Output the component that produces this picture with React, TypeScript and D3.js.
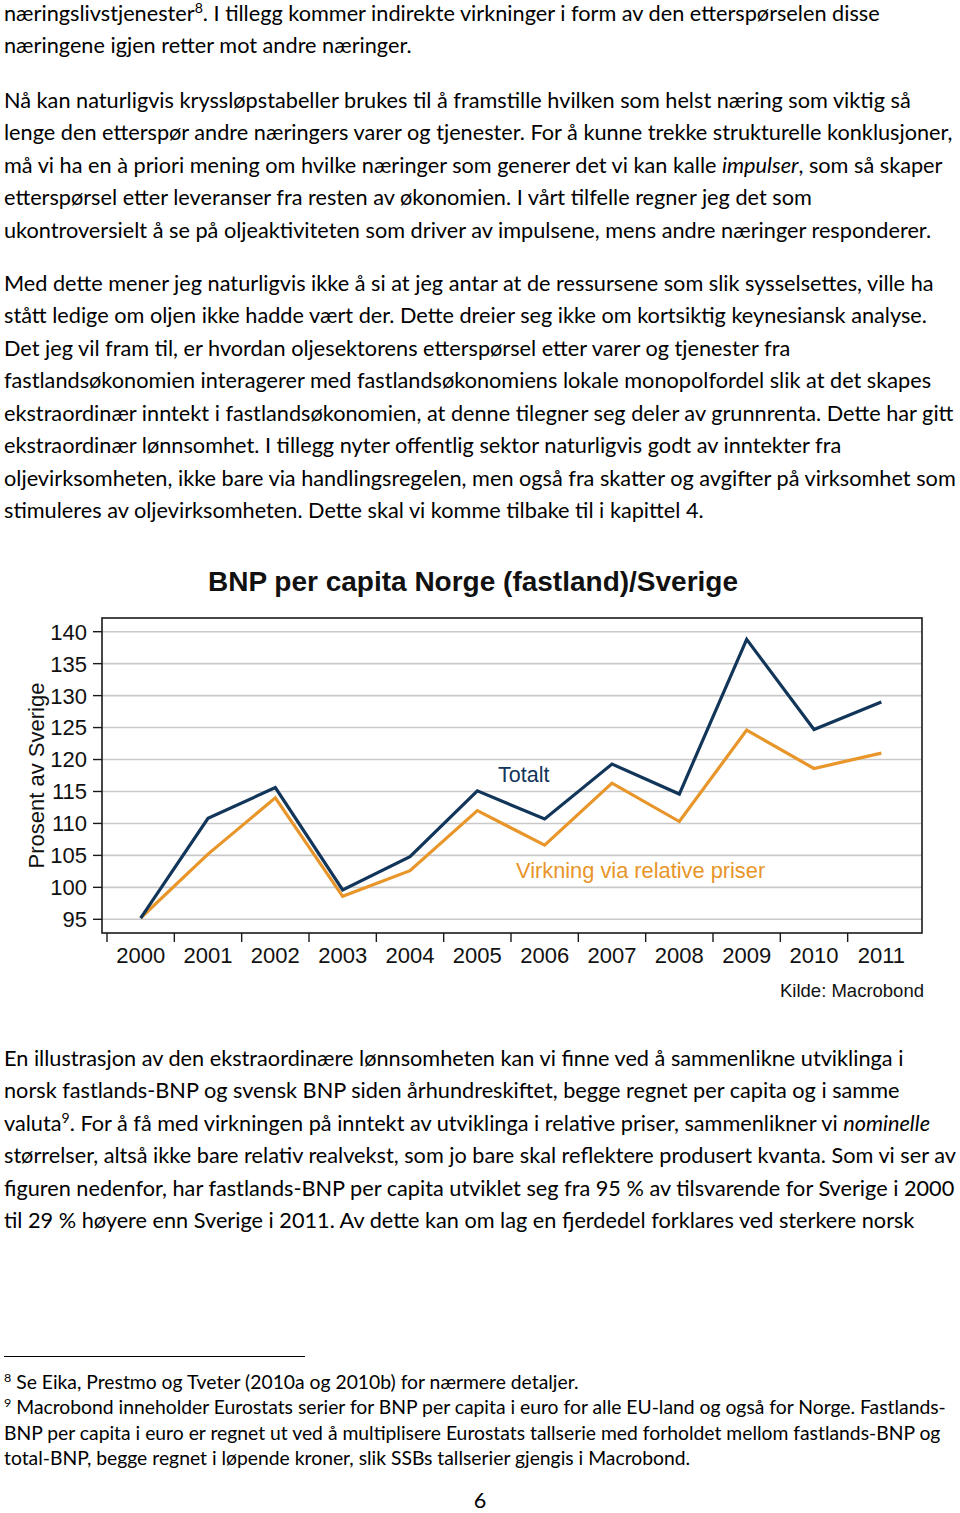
import React, { useMemo } from 'react';
import * as d3 from 'd3';

// ---------- chart data ----------
const years = ['2000', '2001', '2002', '2003', '2004', '2005', '2006', '2007', '2008', '2009', '2010', '2011'];
const totalt = [95.2, 110.8, 115.6, 99.6, 104.8, 115.1, 110.7, 119.3, 114.6, 138.8, 124.7, 129.0];
const relativePriser = [95.2, 105.2, 114.0, 98.6, 102.6, 112.0, 106.6, 116.3, 110.3, 124.6, 118.6, 121.0];
const yTicks = [95, 100, 105, 110, 115, 120, 125, 130, 135, 140];

const chartTitle = 'BNP per capita Norge (fastland)/Sverige';
const yAxisLabel = 'Prosent av Sverige';
const labelTotalt = 'Totalt';
const labelRelative = 'Virkning via relative priser';
const sourceText = 'Kilde: Macrobond';

// ---------- body text ----------
type Seg = string | { t: string; i?: boolean; sup?: boolean };
type Line = Seg[];

const para1: Line[] = [
  ['næringslivstjenester', { t: '8', sup: true }, '. I tillegg kommer indirekte virkninger i form av den etterspørselen disse'],
  ['næringene igjen retter mot andre næringer.'],
];
const para2: Line[] = [
  ['Nå kan naturligvis kryssløpstabeller brukes til å framstille hvilken som helst næring som viktig så'],
  ['lenge den etterspør andre næringers varer og tjenester. For å kunne trekke strukturelle konklusjoner,'],
  ['må vi ha en à priori mening om hvilke næringer som generer det vi kan kalle ', { t: 'impulser', i: true }, ', som så skaper'],
  ['etterspørsel etter leveranser fra resten av økonomien. I vårt tilfelle regner jeg det som'],
  ['ukontroversielt å se på oljeaktiviteten som driver av impulsene, mens andre næringer responderer.'],
];
const para3: Line[] = [
  ['Med dette mener jeg naturligvis ikke å si at jeg antar at de ressursene som slik sysselsettes, ville ha'],
  ['stått ledige om oljen ikke hadde vært der. Dette dreier seg ikke om kortsiktig keynesiansk analyse.'],
  ['Det jeg vil fram til, er hvordan oljesektorens etterspørsel etter varer og tjenester fra'],
  ['fastlandsøkonomien interagerer med fastlandsøkonomiens lokale monopolfordel slik at det skapes'],
  ['ekstraordinær inntekt i fastlandsøkonomien, at denne tilegner seg deler av grunnrenta. Dette har gitt'],
  ['ekstraordinær lønnsomhet. I tillegg nyter offentlig sektor naturligvis godt av inntekter fra'],
  ['oljevirksomheten, ikke bare via handlingsregelen, men også fra skatter og avgifter på virksomhet som'],
  ['stimuleres av oljevirksomheten. Dette skal vi komme tilbake til i kapittel 4.'],
];
const para4: Line[] = [
  ['En illustrasjon av den ekstraordinære lønnsomheten kan vi finne ved å sammenlikne utviklinga i'],
  ['norsk fastlands-BNP og svensk BNP siden århundreskiftet, begge regnet per capita og i samme'],
  ['valuta', { t: '9', sup: true }, '. For å få med virkningen på inntekt av utviklinga i relative priser, sammenlikner vi ', { t: 'nominelle', i: true }],
  ['størrelser, altså ikke bare relativ realvekst, som jo bare skal reflektere produsert kvanta. Som vi ser av'],
  ['figuren nedenfor, har fastlands-BNP per capita utviklet seg fra 95 % av tilsvarende for Sverige i 2000'],
  ['til 29 % høyere enn Sverige i 2011. Av dette kan om lag en fjerdedel forklares ved sterkere norsk'],
];
const footnotes: Line[] = [
  [{ t: '8', sup: true }, ' Se Eika, Prestmo og Tveter (2010a og 2010b) for nærmere detaljer.'],
  [{ t: '9', sup: true }, ' Macrobond inneholder Eurostats serier for BNP per capita i euro for alle EU-land og også for Norge. Fastlands-'],
  ['BNP per capita i euro er regnet ut ved å multiplisere Eurostats tallserie med forholdet mellom fastlands-BNP og'],
  ['total-BNP, begge regnet i løpende kroner, slik SSBs tallserier gjengis i Macrobond.'],
];
const pageNumber = '6';

// ---------- layout ----------
const W = 960;
const H = 1513;
const BODY_FONT = 'Lato, "Noto Sans", sans-serif';
const BODY_SIZE = 21;
const FOOT_SIZE = 18.7;
const LINE_H = 32.5;
const FOOT_LINE_H = 25.5;
const TEXT_X = 4;
const REF_LINE_WIDTH = 951; // width of longest body line in reference

const CHART_FONT = '"Liberation Sans", Arial, sans-serif';
const frame = { left: 102, right: 922, top: 618, bottom: 933 };
const NAVY = '#12355a';
const ORANGE = '#e8952a';

function measure(text: string, font: string): number {
  try {
    const ctx = document.createElement('canvas').getContext('2d');
    if (!ctx) return 0;
    ctx.font = font;
    return ctx.measureText(text).width;
  } catch {
    return 0;
  }
}

function renderLine(line: Line, size: number) {
  const out: React.ReactNode[] = [];
  let raised = false;
  line.forEach((seg, j) => {
    const s = typeof seg === 'string' ? { t: seg } : seg;
    if (s.sup) {
      out.push(
        <tspan key={j} fontSize={size * 0.65} dy={-size * 0.38}>
          {s.t}
        </tspan>
      );
      raised = true;
    } else {
      out.push(
        <tspan key={j} fontStyle={s.i ? 'italic' : 'normal'} dy={raised ? size * 0.38 : 0}>
          {s.t}
        </tspan>
      );
      raised = false;
    }
  });
  return out;
}

function Paragraph({ lines, y0, lh, size }: { lines: Line[]; y0: number; lh: number; size: number }) {
  return (
    <g>
      {lines.map((ln, i) => (
        <text key={i} x={0} y={y0 + i * lh} fontSize={size}>
          {renderLine(ln, size)}
        </text>
      ))}
    </g>
  );
}

function Chart() {
  const x = d3.scaleBand<string>().domain(years).range([107, 915]).paddingInner(0).paddingOuter(0);
  const y = d3.scaleLinear().domain([95, 140]).range([919.3, 631.7]);
  const cx = (yr: string) => (x(yr) as number) + x.bandwidth() / 2;

  const line = d3
    .line<number>()
    .x((_, i) => cx(years[i]))
    .y((d) => y(d));

  return (
    <g fontFamily={CHART_FONT}>
      <text x={473} y={591} textAnchor="middle" fontSize={28} fontWeight="bold" fill="#111">
        {chartTitle}
      </text>
      {yTicks.map((t) => (
        <line key={'g' + t} x1={frame.left} x2={frame.right} y1={y(t)} y2={y(t)} stroke="#c9c9c9" strokeWidth={1.6} />
      ))}
      <rect
        x={frame.left}
        y={frame.top}
        width={frame.right - frame.left}
        height={frame.bottom - frame.top}
        fill="none"
        stroke="#1a1a1a"
        strokeWidth={1.6}
      />
      {yTicks.map((t) => (
        <g key={'y' + t}>
          <line x1={93} x2={frame.left} y1={y(t)} y2={y(t)} stroke="#1a1a1a" strokeWidth={1.4} />
          <text x={87} y={y(t) + 7.9} textAnchor="end" fontSize={22} fill="#111">
            {t}
          </text>
        </g>
      ))}
      {years.map((yr) => (
        <g key={'x' + yr}>
          <line x1={x(yr) as number} x2={x(yr) as number} y1={frame.bottom} y2={942} stroke="#1a1a1a" strokeWidth={1.4} />
          <text x={cx(yr)} y={963} textAnchor="middle" fontSize={22} fill="#111">
            {yr}
          </text>
        </g>
      ))}
      <text transform="translate(44,775.5) rotate(-90)" textAnchor="middle" fontSize={22} fill="#111">
        {yAxisLabel}
      </text>
      <path d={line(relativePriser) || ''} fill="none" stroke={ORANGE} strokeWidth={3.2} strokeLinejoin="miter" />
      <path d={line(totalt) || ''} fill="none" stroke={NAVY} strokeWidth={3.2} strokeLinejoin="miter" />
      <text x={498} y={781.7} fontSize={21.5} fill={NAVY}>
        {labelTotalt}
      </text>
      <text x={516} y={878.3} fontSize={21.8} fill={ORANGE}>
        {labelRelative}
      </text>
      <text x={924} y={996.7} textAnchor="end" fontSize={18.5} fill="#111">
        {sourceText}
      </text>
    </g>
  );
}

export default function App() {
  const sx = useMemo(() => {
    const w = measure(
      'lenge den etterspør andre næringers varer og tjenester. For å kunne trekke strukturelle konklusjoner,',
      `${BODY_SIZE}px Lato`
    );
    return w > 0 ? REF_LINE_WIDTH / w : 0.9;
  }, []);

  return (
    <svg
      width={W}
      height={H}
      viewBox={`0 0 ${W} ${H}`}
      style={{ position: 'absolute', left: 0, top: 0, background: '#fff' }}
    >
      <rect x={0} y={0} width={W} height={H} fill="#fff" />
      <g transform={`translate(${TEXT_X},0) scale(${sx},1)`} fontFamily={BODY_FONT} fill="#000">
        <Paragraph lines={para1} y0={21} lh={LINE_H} size={BODY_SIZE} />
        <Paragraph lines={para2} y0={108} lh={LINE_H} size={BODY_SIZE} />
        <Paragraph lines={para3} y0={291} lh={LINE_H} size={BODY_SIZE} />
        <Paragraph lines={para4} y0={1066} lh={LINE_H} size={BODY_SIZE} />
        <Paragraph lines={footnotes} y0={1389} lh={FOOT_LINE_H} size={FOOT_SIZE} />
      </g>
      <line x1={4} x2={305} y1={1356.5} y2={1356.5} stroke="#000" strokeWidth={1.2} />
      <text
        x={480}
        y={1508}
        textAnchor="middle"
        fontFamily={BODY_FONT}
        fontSize={BODY_SIZE}
        transform={`translate(480,0) scale(${sx},1) translate(-480,0)`}
      >
        {pageNumber}
      </text>
      <Chart />
    </svg>
  );
}
